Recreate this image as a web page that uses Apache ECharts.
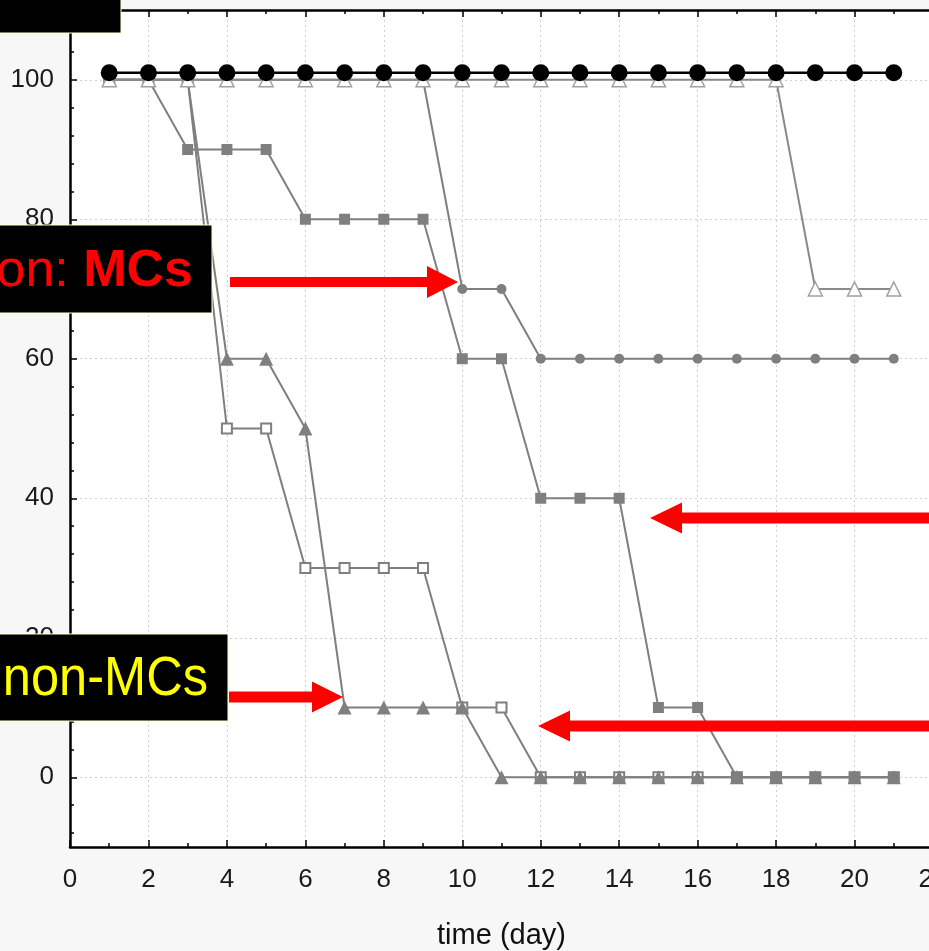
<!DOCTYPE html>
<html>
<head>
<meta charset="utf-8">
<script src="https://cdn.jsdelivr.net/npm/echarts@6.0.0/dist/echarts.min.js"></script>
<style>
html,body{margin:0;padding:0;background:#f7f7f7;}
#chart{width:929px;height:951px;}
</style>
</head>
<body>
<div id="chart"></div>
<script>
// ---- data ----
var days = [1,2,3,4,5,6,7,8,9,10,11,12,13,14,15,16,17,18,19,20,21];
var controlBlack   = [101,101,101,101,101,101,101,101,101,101,101,101,101,101,101,101,101,101,101,101,101];
var whiteTriangle  = [100,100,100,100,100,100,100,100,100,100,100,100,100,100,100,100,100,100,70,70,70];
var grayCircle     = [100,100,100,100,100,100,100,100,100,70,70,60,60,60,60,60,60,60,60,60,60];
var graySquare     = [100,100,90,90,90,80,80,80,80,60,60,40,40,40,10,10,0,0,0,0,0];
var whiteSquare    = [100,100,100,50,50,30,30,30,30,10,10,0,0,0,0,0,0,0,0,0,0];
var grayTriangle   = [100,100,100,60,60,50,10,10,10,10,0,0,0,0,0,0,0,0,0,0,0];
var yMajorTicks = [0,20,40,60,80,100];
var yMinorTicks = [-8,-4,4,8,12,16,24,28,32,36,44,48,52,56,64,68,72,76,84,88,92,96,104,108];
var xAxisTitle = 'time (day)';

function pairs(vals){ return days.map(function(d,i){ return [d, vals[i]]; }); }

var FONT = "'Liberation Sans', Arial, sans-serif";
var GRAY = '#7f7f7f';

var chart = echarts.init(document.getElementById('chart'), null, {renderer:'canvas'});

function arrowRight(x0, xHead, xTip, yc, shaftH, headH){
  return [[x0, yc-shaftH/2],[xHead, yc-shaftH/2],[xHead, yc-headH/2],[xTip, yc],[xHead, yc+headH/2],[xHead, yc+shaftH/2],[x0, yc+shaftH/2]];
}

var option = {
  backgroundColor: '#f7f7f7',
  animation: false,
  grid: {left:70, top:10, width:863, height:837, show:true, backgroundColor:'#ffffff', borderWidth:0,
         containLabel:false, outerBoundsMode:'none'},
  xAxis: [
    {
      type:'value', position:'bottom', min:0, max:22, interval:2,
      name: xAxisTitle, nameLocation:'middle', nameGap:74,
      nameTextStyle:{fontSize:29, color:'#111', fontFamily:FONT},
      axisLine:{show:true, onZero:false, lineStyle:{color:'#000', width:2.5}},
      axisTick:{show:true, inside:true, length:7, lineStyle:{color:'#000', width:1.5}},
      minorTick:{show:true, splitNumber:2, length:4, lineStyle:{color:'#000', width:1.5}},
      axisLabel:{fontSize:26, color:'#1a1a1a', margin:20, fontFamily:FONT, showMaxLabel:true, hideOverlap:false},
      splitLine:{show:true, lineStyle:{color:'#cfcfcf', width:1, type:[2,3]}}
    },
    {
      type:'value', position:'top', min:0, max:22, interval:2,
      axisLine:{show:true, onZero:false, lineStyle:{color:'#000', width:2.5}},
      axisTick:{show:true, inside:true, length:7, lineStyle:{color:'#000', width:1.5}},
      minorTick:{show:true, splitNumber:2, length:4, lineStyle:{color:'#000', width:1.5}},
      axisLabel:{show:false},
      splitLine:{show:false}
    }
  ],
  yAxis: [
    {
      type:'value', position:'left', min:-10, max:110,
      axisLine:{show:true, onZero:false, lineStyle:{color:'#000', width:2.5}},
      axisTick:{show:true, inside:true, length:7, customValues:yMajorTicks, lineStyle:{color:'#000', width:1.5}},
      axisLabel:{fontSize:26, color:'#1a1a1a', margin:16, fontFamily:FONT, customValues:yMajorTicks},
      splitLine:{show:true, lineStyle:{color:'#cfcfcf', width:1, type:[2,3]}}
    },
    {
      type:'value', position:'left', min:-10, max:110,
      axisLine:{show:false, onZero:false},
      axisTick:{show:true, inside:true, length:4, customValues:yMinorTicks, lineStyle:{color:'#000', width:1.5}},
      axisLabel:{show:false},
      splitLine:{show:false}
    }
  ],
  series: [
    {type:'line', data:pairs(whiteSquare), symbol:'rect', symbolSize:10, z:2,
     itemStyle:{color:'#ffffff', borderColor:GRAY, borderWidth:2}, lineStyle:{color:GRAY, width:2}},
    {type:'line', data:pairs(graySquare), symbol:'rect', symbolSize:11, z:3,
     itemStyle:{color:GRAY}, lineStyle:{color:GRAY, width:2}},
    {type:'line', data:pairs(grayCircle), symbol:'circle', symbolSize:10, z:4,
     itemStyle:{color:GRAY}, lineStyle:{color:GRAY, width:2}},
    {type:'line', data:pairs(grayTriangle), symbol:'triangle', symbolSize:14, z:5,
     itemStyle:{color:GRAY}, lineStyle:{color:GRAY, width:2}},
    {type:'line', data:pairs(whiteTriangle), symbol:'triangle', symbolSize:14, z:6,
     itemStyle:{color:'#ffffff', borderColor:'#a0a0a0', borderWidth:1.5}, lineStyle:{color:'#8a8a8a', width:2}},
    {type:'line', data:pairs(controlBlack), symbol:'circle', symbolSize:17, z:7,
     itemStyle:{color:'#000'}, lineStyle:{color:'#000', width:2.5}}
  ],
  graphic: [
    {type:'rect', z:100, shape:{x:-2, y:-2, width:123, height:35}, style:{fill:'#000', stroke:'#ffffcc', lineWidth:1}},
    {type:'rect', z:100, shape:{x:-2, y:225, width:214, height:88}, style:{fill:'#000', stroke:'#ffffcc', lineWidth:1}},
    {type:'text', z:101, x:193, y:272, style:{text:'{a|on: }{b|MCs}', align:'right', verticalAlign:'middle',
      rich:{a:{fontSize:52, fontFamily:FONT, fill:'#ff0000', fontWeight:'normal'}, b:{fontSize:52, fontFamily:FONT, fill:'#ff0000', fontWeight:'bold'}}}},
    {type:'rect', z:100, shape:{x:-2, y:634, width:230, height:87}, style:{fill:'#000', stroke:'#ffffcc', lineWidth:1}},
    {type:'text', z:101, x:208, y:680, scaleX:0.92, originX:0, originY:0,
     style:{text:'non-MCs', align:'right', verticalAlign:'middle', fontSize:55, fontFamily:FONT, fill:'#ffff00'}},
    {type:'polygon', z:100, shape:{points:arrowRight(230, 427, 458, 282, 10, 32)}, style:{fill:'#ff0000'}},
    {type:'polygon', z:100, shape:{points:arrowRight(929, 682, 650, 518, 11, 31)}, style:{fill:'#ff0000'}},
    {type:'polygon', z:100, shape:{points:arrowRight(229, 312, 343, 697, 11, 31)}, style:{fill:'#ff0000'}},
    {type:'polygon', z:100, shape:{points:arrowRight(929, 570, 538, 726, 11, 31)}, style:{fill:'#ff0000'}}
  ]
};
chart.setOption(option);
</script>
</body>
</html>
